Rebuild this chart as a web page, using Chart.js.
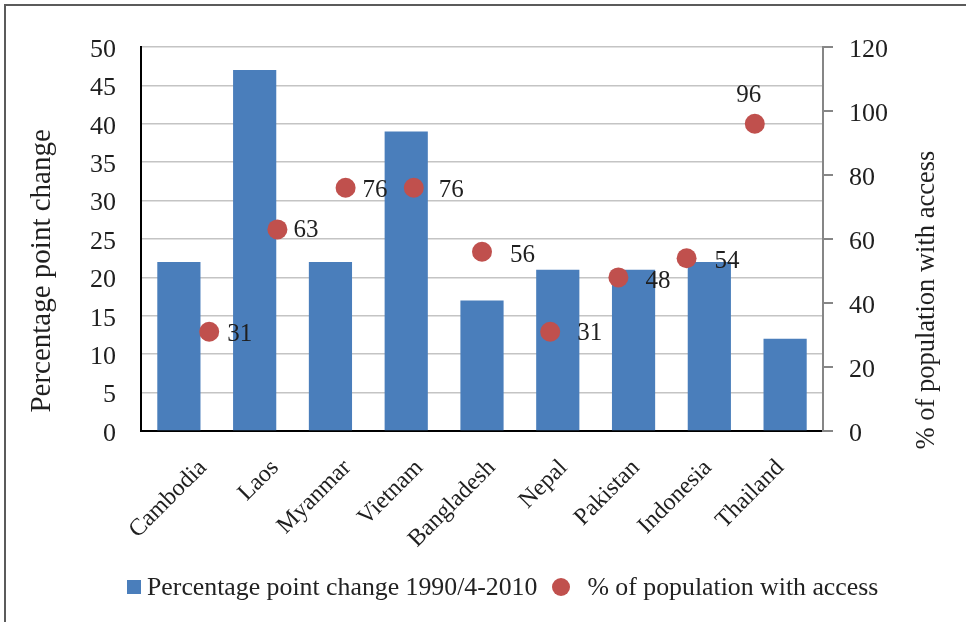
<!DOCTYPE html>
<html>
<head>
<meta charset="utf-8">
<script src="https://cdn.jsdelivr.net/npm/chart.js@4.4.0/dist/chart.umd.min.js"></script>
<style>
html,body{margin:0;padding:0;background:#fff;}
#wrap{position:relative;width:966px;height:622px;overflow:hidden;background:#fff;}
#frame{position:absolute;left:4px;top:4px;right:-10px;bottom:-10px;border-left:2px solid #5b5b5b;border-top:2px solid #5b5b5b;pointer-events:none;}
canvas{position:absolute;left:0;top:0;}
#legend{position:absolute;left:127px;top:570px;height:34px;display:flex;align-items:center;font-family:"Liberation Serif","Times New Roman",serif;font-size:25.8px;color:#222;white-space:nowrap;}
#legend .sq{width:14px;height:14px;background:#4a7ebb;margin-right:6px;flex:none;}
#legend .dot{width:18px;height:18px;border-radius:50%;background:#c0504d;margin-left:15px;margin-right:17px;flex:none;}
</style>
</head>
<body>
<div id="wrap">
  <canvas id="c" width="966" height="622"></canvas>
  <div id="frame"></div>
  <div id="legend"></div>
</div>
<script>
// ---- data ----
const categories = ['Cambodia','Laos','Myanmar','Vietnam','Bangladesh','Nepal','Pakistan','Indonesia','Thailand'];
const pointChange = [22, 47, 22, 39, 17, 21, 21, 22, 12];
const accessPct = [31, 63, 76, 76, 56, 31, 48, 54, 96];
const seriesNames = ['Percentage point change 1990/4-2010', '% of population with access'];
const leftAxisTitle = 'Percentage point change';
const rightAxisTitle = '% of population with access';
const leftTicks = [0, 5, 10, 15, 20, 25, 30, 35, 40, 45, 50];
const rightTicks = [0, 20, 40, 60, 80, 100, 120];

// ---- styles ----
const FONT = '"Liberation Serif","Times New Roman",serif';
const TEXT = '#1f1f1f';
const BAR = '#4a7ebb';
const DOT = '#c0504d';
// data label placement (dx, dy from point, alignment)
const labelPlacement = [
  {dx: 18, dy: 3, align: 'left'},
  {dx: 16, dy: 1, align: 'left'},
  {dx: 17, dy: 3, align: 'left'},
  {dx: 25, dy: 3, align: 'left'},
  {dx: 28, dy: 4, align: 'left'},
  {dx: 27, dy: 2, align: 'left'},
  {dx: 27, dy: 4, align: 'left'},
  {dx: 28, dy: 3, align: 'left'},
  {dx: -6, dy: -28, align: 'center'}
];

Chart.defaults.font.family = FONT;
Chart.defaults.color = TEXT;

const dataLabels = {
  id: 'dataLabels',
  afterDatasetsDraw(chart) {
    const meta = chart.getDatasetMeta(1);
    const ctx = chart.ctx;
    ctx.save();
    ctx.font = '25px ' + FONT;
    ctx.fillStyle = TEXT;
    ctx.textBaseline = 'middle';
    meta.data.forEach((el, i) => {
      const p = labelPlacement[i];
      ctx.textAlign = p.align;
      ctx.fillText(String(accessPct[i]), el.x + p.dx, el.y + p.dy);
    });
    ctx.restore();
  }
};

const axisTitles = {
  id: 'axisTitles',
  afterDraw(chart) {
    const ctx = chart.ctx;
    const a = chart.chartArea;
    ctx.save();
    ctx.fillStyle = TEXT;
    ctx.textAlign = 'center';
    ctx.textBaseline = 'middle';
    ctx.translate(42, a.top + (a.bottom - a.top) * 0.583);
    ctx.rotate(-Math.PI / 2);
    ctx.font = '29px ' + FONT;
    ctx.fillText(leftAxisTitle, 0, 0);
    ctx.restore();
    ctx.save();
    ctx.fillStyle = TEXT;
    ctx.textAlign = 'center';
    ctx.textBaseline = 'middle';
    ctx.translate(927, a.top + (a.bottom - a.top) * 0.659);
    ctx.rotate(-Math.PI / 2);
    ctx.font = '26.5px ' + FONT;
    ctx.fillText(rightAxisTitle, 0, 0);
    ctx.restore();
  }
};

new Chart(document.getElementById('c'), {
  data: {
    labels: categories,
    datasets: [
      {
        type: 'bar',
        label: seriesNames[0],
        data: pointChange,
        backgroundColor: BAR,
        borderWidth: 0,
        grouped: false,
        categoryPercentage: 1,
        barPercentage: 0.57,
        xAxisID: 'x',
        yAxisID: 'y',
        order: 2
      },
      {
        type: 'scatter',
        label: seriesNames[1],
        data: accessPct.map((v, i) => ({x: i + 1, y: v})),
        backgroundColor: DOT,
        borderColor: DOT,
        borderWidth: 0,
        pointRadius: 10,
        pointHoverRadius: 10,
        xAxisID: 'x2',
        yAxisID: 'y1',
        order: 1
      }
    ]
  },
  options: {
    responsive: false,
    maintainAspectRatio: false,
    animation: false,
    layout: {padding: {top: 47, left: 0, right: 0, bottom: 0}},
    plugins: {legend: {display: false}, tooltip: {enabled: false}},
    scales: {
      x: {
        type: 'category',
        position: 'bottom',
        offset: true,
        display: false
      },
      xl: {
        type: 'linear',
        position: 'bottom',
        min: 0.141,
        max: 9.591,
        afterBuildTicks: s => { s.ticks = categories.map((c, i) => ({value: i + 1})); },
        grid: {display: false, drawTicks: false},
        border: {display: true, color: '#000', width: 2},
        ticks: {
          font: {size: 24},
          color: TEXT,
          maxRotation: 45,
          minRotation: 45,
          autoSkip: false,
          padding: 23,
          callback: v => categories[Math.round(v) - 1]
        },
        afterFit: s => { s.height = 191; }
      },
      x2: {
        type: 'linear',
        display: false,
        min: 0,
        max: 10
      },
      y: {
        type: 'linear',
        position: 'left',
        min: leftTicks[0],
        max: leftTicks[leftTicks.length - 1],
        afterBuildTicks: s => { s.ticks = leftTicks.map(v => ({value: v})); },
        grid: {color: '#c4c4c4', lineWidth: 1.5, drawTicks: false},
        border: {display: true, color: '#000', width: 2},
        ticks: {font: {size: 26}, color: TEXT, padding: 25, labelOffset: 3},
        afterFit: s => { s.width = 141; }
      },
      y1: {
        type: 'linear',
        position: 'right',
        min: rightTicks[0],
        max: rightTicks[rightTicks.length - 1],
        afterBuildTicks: s => { s.ticks = rightTicks.map(v => ({value: v})); },
        grid: {drawOnChartArea: false, drawTicks: true, tickLength: 10, color: '#868686', lineWidth: 2},
        border: {display: true, color: '#868686', width: 2},
        ticks: {font: {size: 26}, color: TEXT, padding: 16, labelOffset: 3},
        afterFit: s => { s.width = 143; }
      }
    }
  },
  plugins: [dataLabels, axisTitles]
});

// HTML legend built from series names
const lg = document.getElementById('legend');
const sq = document.createElement('span'); sq.className = 'sq';
const t1 = document.createElement('span'); t1.textContent = seriesNames[0];
const dot = document.createElement('span'); dot.className = 'dot';
const t2 = document.createElement('span'); t2.textContent = seriesNames[1];
lg.append(sq, t1, dot, t2);
</script>
</body>
</html>
